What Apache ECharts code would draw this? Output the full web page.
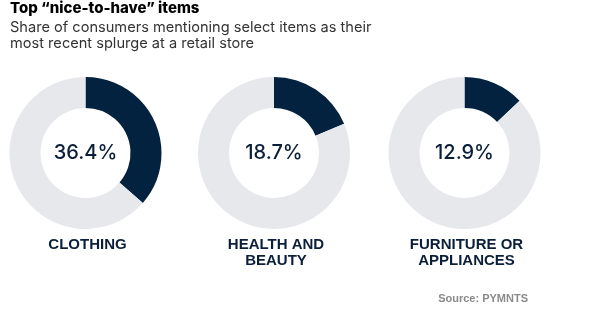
<!DOCTYPE html>
<html><head><meta charset="utf-8">
<script src="https://cdn.jsdelivr.net/npm/echarts@6/dist/echarts.min.js"></script>
<style>html,body{margin:0;padding:0;background:#fff}#c{width:594px;height:310px}</style>
</head><body><div id="c"></div>
<script>
const categories = ['CLOTHING', 'HEALTH AND\nBEAUTY', 'FURNITURE OR\nAPPLIANCES'];
const values = [36.4, 18.7, 12.9];
const centersX = [85.5, 274, 464.5];
const DARK = '#03223f', LIGHT = '#e6e8eb';
const chart = echarts.init(document.getElementById('c'), null, {renderer: 'canvas'});
const series = values.map((v, i) => ({
  type: 'pie', center: [centersX[i], 153], radius: [45, 76], startAngle: 90, clockwise: true,
  silent: true, animation: false,
  label: {show: false}, labelLine: {show: false},
  data: [
    {value: v, itemStyle: {color: DARK}},
    {value: 100 - v, itemStyle: {color: LIGHT}}
  ]
}));
const titles = [
  {text: 'Top \u201cnice-to-have\u201d items', left: 10, top: 0, padding: 0,
   textStyle: {fontFamily: 'Inter', fontWeight: 800, fontSize: 15, lineHeight: 17, color: '#000'}},
  {text: 'Share of consumers mentioning select items as their\nmost recent splurge at a retail store', left: 10, top: 19, padding: 0,
   textStyle: {fontFamily: 'Inter', fontWeight: 'normal', fontSize: 14.6, lineHeight: 16.5, color: '#333'}}
];
values.forEach((v, i) => {
  titles.push({text: v.toFixed(1) + '%', left: centersX[i], top: 153, textAlign: 'center', textVerticalAlign: 'middle', padding: 0,
    textStyle: {fontFamily: 'Inter', fontWeight: 500, fontSize: 20, color: '#0b1f3a'}});
  titles.push({text: categories[i], left: centersX[i] + 2, top: 237.5, textAlign: 'center', padding: 0,
    textStyle: {fontFamily: 'Liberation Sans', fontWeight: 'bold', fontSize: 15, lineHeight: 15.5, color: '#0b1f3a', align: 'center'}});
});
titles.push({text: 'Source: PYMNTS', right: 66, top: 293, padding: 0,
  textStyle: {fontFamily: 'Liberation Sans', fontWeight: 'bold', fontSize: 11, color: '#8a8a8a'}});
chart.setOption({animation: false, title: titles, series});
</script></body></html>
